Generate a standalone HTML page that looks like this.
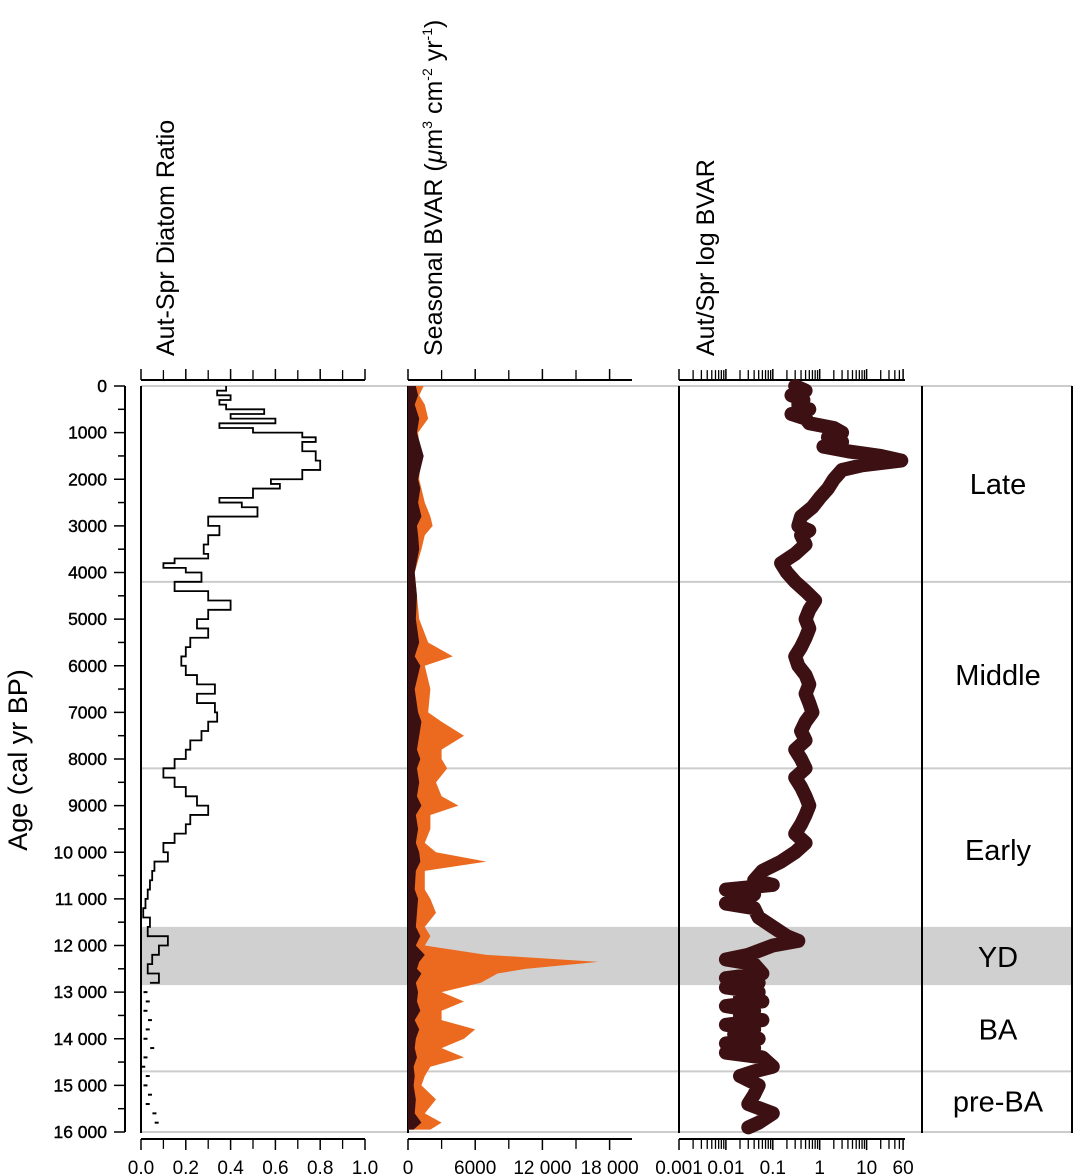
<!DOCTYPE html>
<html><head><meta charset="utf-8"><style>
html,body{margin:0;padding:0;background:#fff;}
svg{display:block;font-family:"Liberation Sans",Arial,sans-serif;}
</style></head><body>
<svg id="chart" width="1075" height="1176" viewBox="0 0 1075 1176" xmlns="http://www.w3.org/2000/svg"></svg>
<script>
// ---- data ----
const ratioAges=[0,100,200,300,400,500,600,700,800,900,1000,1100,1200,1400,1600,1800,2000,2100,2200,2400,2500,2600,2800,3000,3200,3400,3600,3700,3800,3900,4000,4200,4400,4600,4800,5000,5200,5400,5600,5800,6000,6200,6400,6600,6800,7000,7200,7400,7600,7800,8000,8200,8400,8600,8800,9000,9200,9400,9600,9800,10000,10200,10400,10600,10800,11000,11200,11400,11600,11800,12000,12200,12400,12600,12800];
const ratioVals=[0.38,0.34,0.4,0.35,0.38,0.55,0.4,0.6,0.35,0.5,0.72,0.78,0.72,0.78,0.8,0.72,0.58,0.62,0.5,0.35,0.45,0.52,0.3,0.35,0.3,0.28,0.3,0.15,0.1,0.2,0.27,0.15,0.3,0.4,0.3,0.25,0.3,0.22,0.2,0.18,0.2,0.25,0.33,0.25,0.33,0.34,0.3,0.27,0.22,0.2,0.15,0.1,0.15,0.2,0.25,0.3,0.22,0.2,0.15,0.1,0.12,0.06,0.05,0.04,0.03,0.02,0.01,0.04,0.03,0.12,0.08,0.05,0.03,0.08,0.04];
const dotAges=[13000,13200,13400,13600,13800,14000,14200,14400,14600,14800,15000,15200,15400,15600,15800];
const dotVals=[0.02,0.03,0.02,0.04,0.03,0.02,0.05,0.02,0.01,0.03,0.02,0.04,0.03,0.06,0.07];
const bvarAges=[0,200,400,700,1000,1500,2000,2200,2500,2800,3000,3200,3500,4000,4500,5000,5500,5800,6000,6500,7000,7200,7500,7800,8000,8200,8500,8800,9000,9200,9500,9800,10000,10200,10400,10800,11000,11300,11600,11800,12000,12200,12350,12500,12600,12800,13000,13200,13400,13600,13800,14000,14200,14400,14600,14800,15000,15300,15600,15800,15950];
const autVals=[1400,1000,1500,1800,900,1100,1000,1200,1500,2000,2200,1500,1200,600,800,1000,1800,4000,1500,2000,1800,3000,5000,3000,3000,3500,2500,3000,4500,2000,2000,1500,2500,7000,1500,1500,2000,2500,1500,2000,1500,7000,17000,10500,8000,6500,3000,5000,3000,3000,6000,5000,3000,5000,2000,1500,1200,2500,1500,3000,2000];
const sprVals=[700,900,600,1000,800,1400,900,1100,900,1200,800,900,1000,600,800,700,1000,600,1100,600,900,1200,1000,800,1100,800,1000,800,1200,700,900,700,1000,1100,700,600,900,800,700,1100,700,1500,1000,800,1200,700,900,800,1100,600,1000,700,600,800,500,600,500,700,600,1200,500];
const logAges=[0,100,200,300,400,500,600,700,800,900,1000,1100,1200,1300,1400,1500,1600,1700,1800,2000,2200,2400,2600,2800,3000,3100,3200,3400,3600,3800,4000,4200,4400,4600,4800,5000,5200,5400,5600,5800,6000,6200,6400,6600,6800,7000,7200,7400,7600,7800,8000,8200,8400,8600,8800,9000,9200,9400,9600,9800,10000,10200,10400,10600,10700,10800,10900,11000,11100,11200,11400,11600,11800,11900,12000,12200,12300,12400,12600,12700,12800,12900,13000,13100,13200,13300,13400,13500,13600,13700,13800,13900,14000,14100,14200,14300,14400,14600,14700,14800,15000,15200,15400,15600,15800,15900];
const logVals=[0.3,0.5,0.25,0.45,0.35,0.6,0.25,0.5,0.6,2,3,1.5,3,1.2,4,20,55,8,3,2,1.5,1,0.7,0.4,0.35,0.6,0.4,0.5,0.3,0.15,0.2,0.3,0.5,0.8,0.6,0.5,0.6,0.5,0.4,0.3,0.35,0.5,0.6,0.5,0.6,0.7,0.5,0.4,0.5,0.3,0.4,0.5,0.3,0.4,0.5,0.6,0.5,0.4,0.3,0.5,0.3,0.15,0.06,0.04,0.1,0.01,0.04,0.03,0.01,0.04,0.05,0.1,0.2,0.35,0.1,0.03,0.01,0.04,0.06,0.01,0.05,0.01,0.05,0.02,0.06,0.01,0.04,0.02,0.06,0.01,0.04,0.015,0.05,0.01,0.04,0.01,0.06,0.1,0.04,0.02,0.05,0.04,0.03,0.1,0.05,0.03];
const yTicks=[0,1000,2000,3000,4000,5000,6000,7000,8000,9000,10000,11000,12000,13000,14000,15000,16000];
const yTickLabels=["0","1000","2000","3000","4000","5000","6000","7000","8000","9000","10 000","11 000","12 000","13 000","14 000","15 000","16 000"];
const ratioTicks=[0,0.2,0.4,0.6,0.8,1.0];
const ratioTickLabels=["0.0","0.2","0.4","0.6","0.8","1.0"];
const bvarTicks=[0,6000,12000,18000];
const bvarTickLabels=["0","6000","12 000","18 000"];
const logTicks=[0.001,0.01,0.1,1,10,60];
const logTickLabels=["0.001","0.01","0.1","1","10","60"];
const zoneBounds=[4200,8200,14700];
const zoneNames=["Late","Middle","Early","YD","BA","pre-BA"];
const zoneMid=[2100,6200,9950,12250,13800,15350];
const ydBand=[11600,12850];

// ---- scales ----
const Y=a=>386+a*(1132-386)/16000;
const X1=v=>141+v*224;
const X2=v=>408+v*224/20000;
const X3=v=>679+(Math.log10(v)+3)*46.9;
const NS="http://www.w3.org/2000/svg";
const svg=document.getElementById('chart');
function mk(tag,attrs,parent){const e=document.createElementNS(NS,tag);for(const k in attrs)e.setAttribute(k,attrs[k]);(parent||svg).appendChild(e);return e;}
function txt(s,attrs,parent){const e=mk('text',attrs,parent);e.textContent=s;return e;}

let band=mk('rect',{x:141,y:Y(ydBand[0]),width:931,height:Y(ydBand[1])-Y(ydBand[0]),fill:'#d0d0d0'});


[0,16000].concat(zoneBounds).forEach(a=>{
 let l=mk('line',{x1:141,x2:1072,y1:Y(a),y2:Y(a),stroke:'#cccccc','stroke-width':2});
 
 
});

let ya=mk('g',{});


mk('line',{x1:125,x2:125,y1:386,y2:1132,stroke:'#000','stroke-width':2},ya);
yTicks.forEach((t,i)=>{
 mk('line',{x1:114,x2:125,y1:Y(t),y2:Y(t),stroke:'#000','stroke-width':1.5},ya);
 if(i<yTicks.length-1) mk('line',{x1:118,x2:125,y1:Y(t+500),y2:Y(t+500),stroke:'#000','stroke-width':1.5},ya);
 let tl=txt(yTickLabels[i],{x:107,y:Y(t)+6,'text-anchor':'end','font-size':17.5,'stroke':'#000','stroke-width':0.4},ya);
 
 
});
let yt=txt('Age (cal yr BP)',{x:0,y:0,transform:'translate(27,760) rotate(-90)','text-anchor':'middle','font-size':27});



[141,408,679,922,1072].forEach(x=>{
 let l=mk('line',{x1:x,x2:x,y1:386,y2:1133,stroke:'#000','stroke-width':2});
 
 
});

function hAxis(name,x0,x1,ticks,labels,fx,minor){
 const g=mk('g',{});
 
 
 [[380,-11],[1139,11]].forEach(([y,d])=>{
  mk('line',{x1:x0,x2:x1,y1:y,y2:y,stroke:'#000','stroke-width':2},g);
  ticks.forEach(t=>mk('line',{x1:fx(t),x2:fx(t),y1:y,y2:y+d,stroke:'#000','stroke-width':1.5},g));
  minor.forEach(t=>mk('line',{x1:fx(t),x2:fx(t),y1:y,y2:y+d*0.9,stroke:'#000','stroke-width':1.3},g));
 });
 ticks.forEach((t,i)=>{
  let tl=txt(labels[i],{x:fx(t),y:1174,'text-anchor':'middle','font-size':19},g);
  
  
 });
}
hAxis('ratio-axis',141,365,ratioTicks,ratioTickLabels,X1,[0.1,0.3,0.5,0.7,0.9]);
hAxis('bvar-axis',408,632,bvarTicks,bvarTickLabels,X2,[3000,9000,15000]);
const logMinor=[];for(let d=0.001;d<10;d*=10)for(let k=2;k<=9;k++)logMinor.push(d*k);
[20,30,40,50].forEach(v=>logMinor.push(v));
hAxis('log-axis',679,905,logTicks,logTickLabels,X3,logMinor);

[['Aut-Spr Diatom Ratio',174,'ratio-title'],['Aut/Spr log BVAR',714,'log-title']].forEach(([s,x,n])=>{
 let t=txt(s,{transform:`translate(${x},356) rotate(-90)`,'font-size':25});
 
 
});
let bt=mk('text',{transform:'translate(442,356) rotate(-90)','font-size':25});


bt.innerHTML='Seasonal BVAR (<tspan font-style="italic">μ</tspan>m<tspan font-size="14" dy="-10">3</tspan><tspan dy="10"> cm</tspan><tspan font-size="14" dy="-10">-2</tspan><tspan dy="10"> yr</tspan><tspan font-size="14" dy="-10">-1</tspan><tspan dy="10">)</tspan>';

let d='';
ratioAges.forEach((a,i)=>{d+=(i?'L':'M')+X1(ratioVals[i])+','+Y(a);if(i<ratioAges.length-1)d+='L'+X1(ratioVals[i])+','+Y(ratioAges[i+1]);});
let rl=mk('path',{d:d,fill:'none',stroke:'#000','stroke-width':1.8});


dotAges.forEach((a,i)=>{
 let c=mk('rect',{x:X1(dotVals[i])-2,y:Y(a)-1,width:4,height:2,fill:'#000'});
 
 
});

function area(vals,color,name){
 let p='M'+X2(0)+','+Y(bvarAges[0]);
 bvarAges.forEach((a,i)=>{p+='L'+X2(vals[i])+','+Y(a);});
 p+='L'+X2(0)+','+Y(bvarAges[bvarAges.length-1])+'Z';
 let e=mk('path',{d:p,fill:color});
 
 
}
area(autVals,'#ec6a20','autumn-bvar-area');
area(sprVals,'#3a1012','spring-bvar-area');

let lp=logAges.map((a,i)=>X3(logVals[i])+','+Y(a)).join(' ');
let ll=mk('polyline',{points:lp,fill:'none',stroke:'#3d1114','stroke-width':14,'stroke-linejoin':'round','stroke-linecap':'round'});



zoneNames.forEach((z,i)=>{
 let t=txt(z,{x:998,y:Y(zoneMid[i])+10,'text-anchor':'middle','font-size':29});
 
 
});
</script>
</body></html>
